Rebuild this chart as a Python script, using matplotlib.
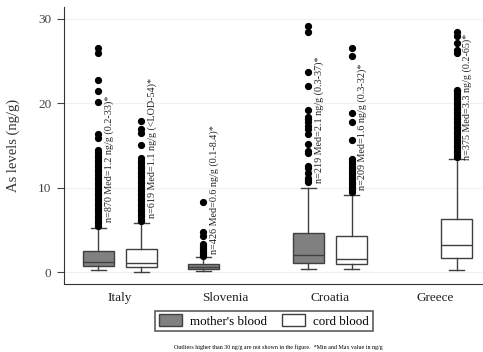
import matplotlib
matplotlib.use("Agg")
import matplotlib.pyplot as plt
from matplotlib.patches import Patch

plt.rcParams['font.family'] = ['Liberation Serif', 'DejaVu Serif']

countries = ["Italy", "Slovenia", "Croatia", "Greece"]
series_names = ["mother's blood", "cord blood"]

# (country index, series index) for each box
box_country = [0, 0, 1, 2, 2, 3]
box_series = [0, 1, 0, 0, 1, 1]
q1 = [0.71, 0.63, 0.36, 1.03, 0.95, 1.70]
med = [1.15, 1.07, 0.63, 2.02, 1.50, 3.24]
q3 = [2.53, 2.69, 0.91, 4.59, 4.27, 6.29]
whislo = [0.24, 0.04, 0.15, 0.32, 0.32, 0.24]
whishi = [5.26, 5.77, 1.74, 10.0, 9.13, 13.4]
fliers = [
    [5.5, 5.8, 6.1, 6.4, 6.7, 7.0, 7.3, 7.6, 7.9, 8.2, 8.5, 8.8, 9.1, 9.4, 9.7,
     10.0, 10.3, 10.6, 10.9, 11.2, 11.5, 11.8, 12.1, 12.4, 12.7, 13.0, 13.3,
     13.6, 13.9, 14.2, 14.5, 15.9, 16.3, 20.2, 21.4, 22.7, 25.9, 26.6],
    [6.0, 6.3, 6.6, 6.9, 7.2, 7.5, 7.8, 8.1, 8.4, 8.7, 9.0, 9.3, 9.6, 9.9,
     10.2, 10.5, 10.8, 11.1, 11.4, 11.7, 12.0, 12.3, 12.6, 12.9, 13.2, 13.5,
     15.0, 16.5, 16.9, 17.9],
    [1.9, 2.1, 2.3, 2.5, 2.7, 2.9, 3.1, 3.3, 4.3, 4.7, 8.3],
    [10.7, 10.9, 11.2, 11.7, 12.3, 12.6, 14.1, 14.4, 15.2, 16.4, 17.0, 17.3,
     17.8, 18.1, 18.4, 19.2, 22.1, 23.7, 28.4, 29.2],
    [9.5, 9.8, 10.1, 10.4, 10.7, 11.0, 11.3, 11.6, 11.9, 12.2, 12.5, 12.8,
     13.1, 13.4, 15.7, 17.8, 18.9, 25.6, 26.6],
    [13.6, 13.9, 14.2, 14.5, 14.8, 15.1, 15.4, 15.7, 16.0, 16.3, 16.6, 16.9,
     17.2, 17.5, 17.8, 18.1, 18.4, 18.7, 19.0, 19.3, 19.6, 19.9, 20.2, 20.5,
     20.8, 21.1, 21.4, 21.6, 25.9, 26.3, 27.1, 28.0, 28.5],
]
labels = [
    "n=870 Med=1.2 ng/g (0.2-33)*",
    "n=619 Med=1.1 ng/g (<LOD-54)*",
    "n=426 Med=0.6 ng/g (0.1-8.4)*",
    "n=219 Med=2.1 ng/g (0.3-37)*",
    "n=209 Med=1.6 ng/g (0.3-32)*",
    "n=375 Med=3.3 ng/g (0.2-65)*",
]
label_bottom = [5.9, 6.4, 2.2, 10.5, 9.7, 13.3]
yticks = [0, 10, 20, 30]
footnote = "Outliers higher than 30 ng/g are not shown in the figure.  *Min and Max value in ng/g"

fills = ["#808080", "#ffffff"]
edge = "#404040"
offset = 0.205

fig = plt.figure(figsize=(4.83, 3.52), dpi=100)
ax = fig.add_axes([0.1325, 0.193, 0.8675, 0.787])

stats = []
positions = []
for i in range(len(q1)):
    stats.append(dict(med=med[i], q1=q1[i], q3=q3[i], whislo=whislo[i],
                      whishi=whishi[i], fliers=fliers[i]))
    positions.append(box_country[i] + 1 + (offset if box_series[i] == 1 else -offset))

bp = ax.bxp(stats, positions=positions, widths=0.30, patch_artist=True,
            showfliers=True,
            boxprops=dict(edgecolor=edge, linewidth=1.0),
            medianprops=dict(color=edge, linewidth=1.0),
            whiskerprops=dict(color=edge, linewidth=1.0),
            capprops=dict(color=edge, linewidth=1.0),
            capwidths=0.15,
            flierprops=dict(marker='o', markerfacecolor='black',
                            markeredgecolor='black', markersize=4.2))
for i, patch in enumerate(bp['boxes']):
    patch.set_facecolor(fills[box_series[i]])

for i in range(len(labels)):
    ax.text(positions[i] + 0.105, label_bottom[i], labels[i], rotation=90,
            ha='center', va='bottom', fontsize=7.3, color='#222222')

ax.set_xlim(0.467, 4.457)
ax.set_ylim(-1.42, 31.4)
ax.set_xticks([1, 2, 3, 4])
ax.set_xticklabels(countries, fontsize=9.5, color='#222222')
ax.tick_params(axis='x', length=0, pad=6)
ax.set_yticks(yticks)
ax.set_yticklabels([str(v) for v in yticks], fontsize=9.5, color='#444444')
ax.tick_params(axis='y', length=5, color='#444444', pad=4)
for y in yticks:
    ax.axhline(y, color='#f0f0f0', linewidth=0.8, zorder=0)
ax.spines['top'].set_visible(False)
ax.spines['right'].set_visible(False)
ax.spines['left'].set_color('#333333')
ax.spines['bottom'].set_color('#333333')
ax.set_ylabel("As levels (ng/g)", fontsize=10.5, color='#333333', labelpad=13)

handles = [Patch(facecolor=fills[0], edgecolor=edge, label=series_names[0]),
           Patch(facecolor=fills[1], edgecolor=edge, label=series_names[1])]
leg = fig.legend(handles=handles, loc='center', bbox_to_anchor=(264/483, 1 - 321/352),
                 ncol=2, fontsize=9.4, frameon=True, fancybox=False,
                 edgecolor='#333333', handlelength=1.75, handleheight=0.95,
                 borderpad=0.3, columnspacing=1.2, handletextpad=0.6,
                 borderaxespad=0)
leg.get_frame().set_linewidth(1.2)

fig.text(278/483, 1 - 347/352, footnote, ha='center', va='center', fontsize=4.3)

fig.savefig("out.png", dpi=100)
